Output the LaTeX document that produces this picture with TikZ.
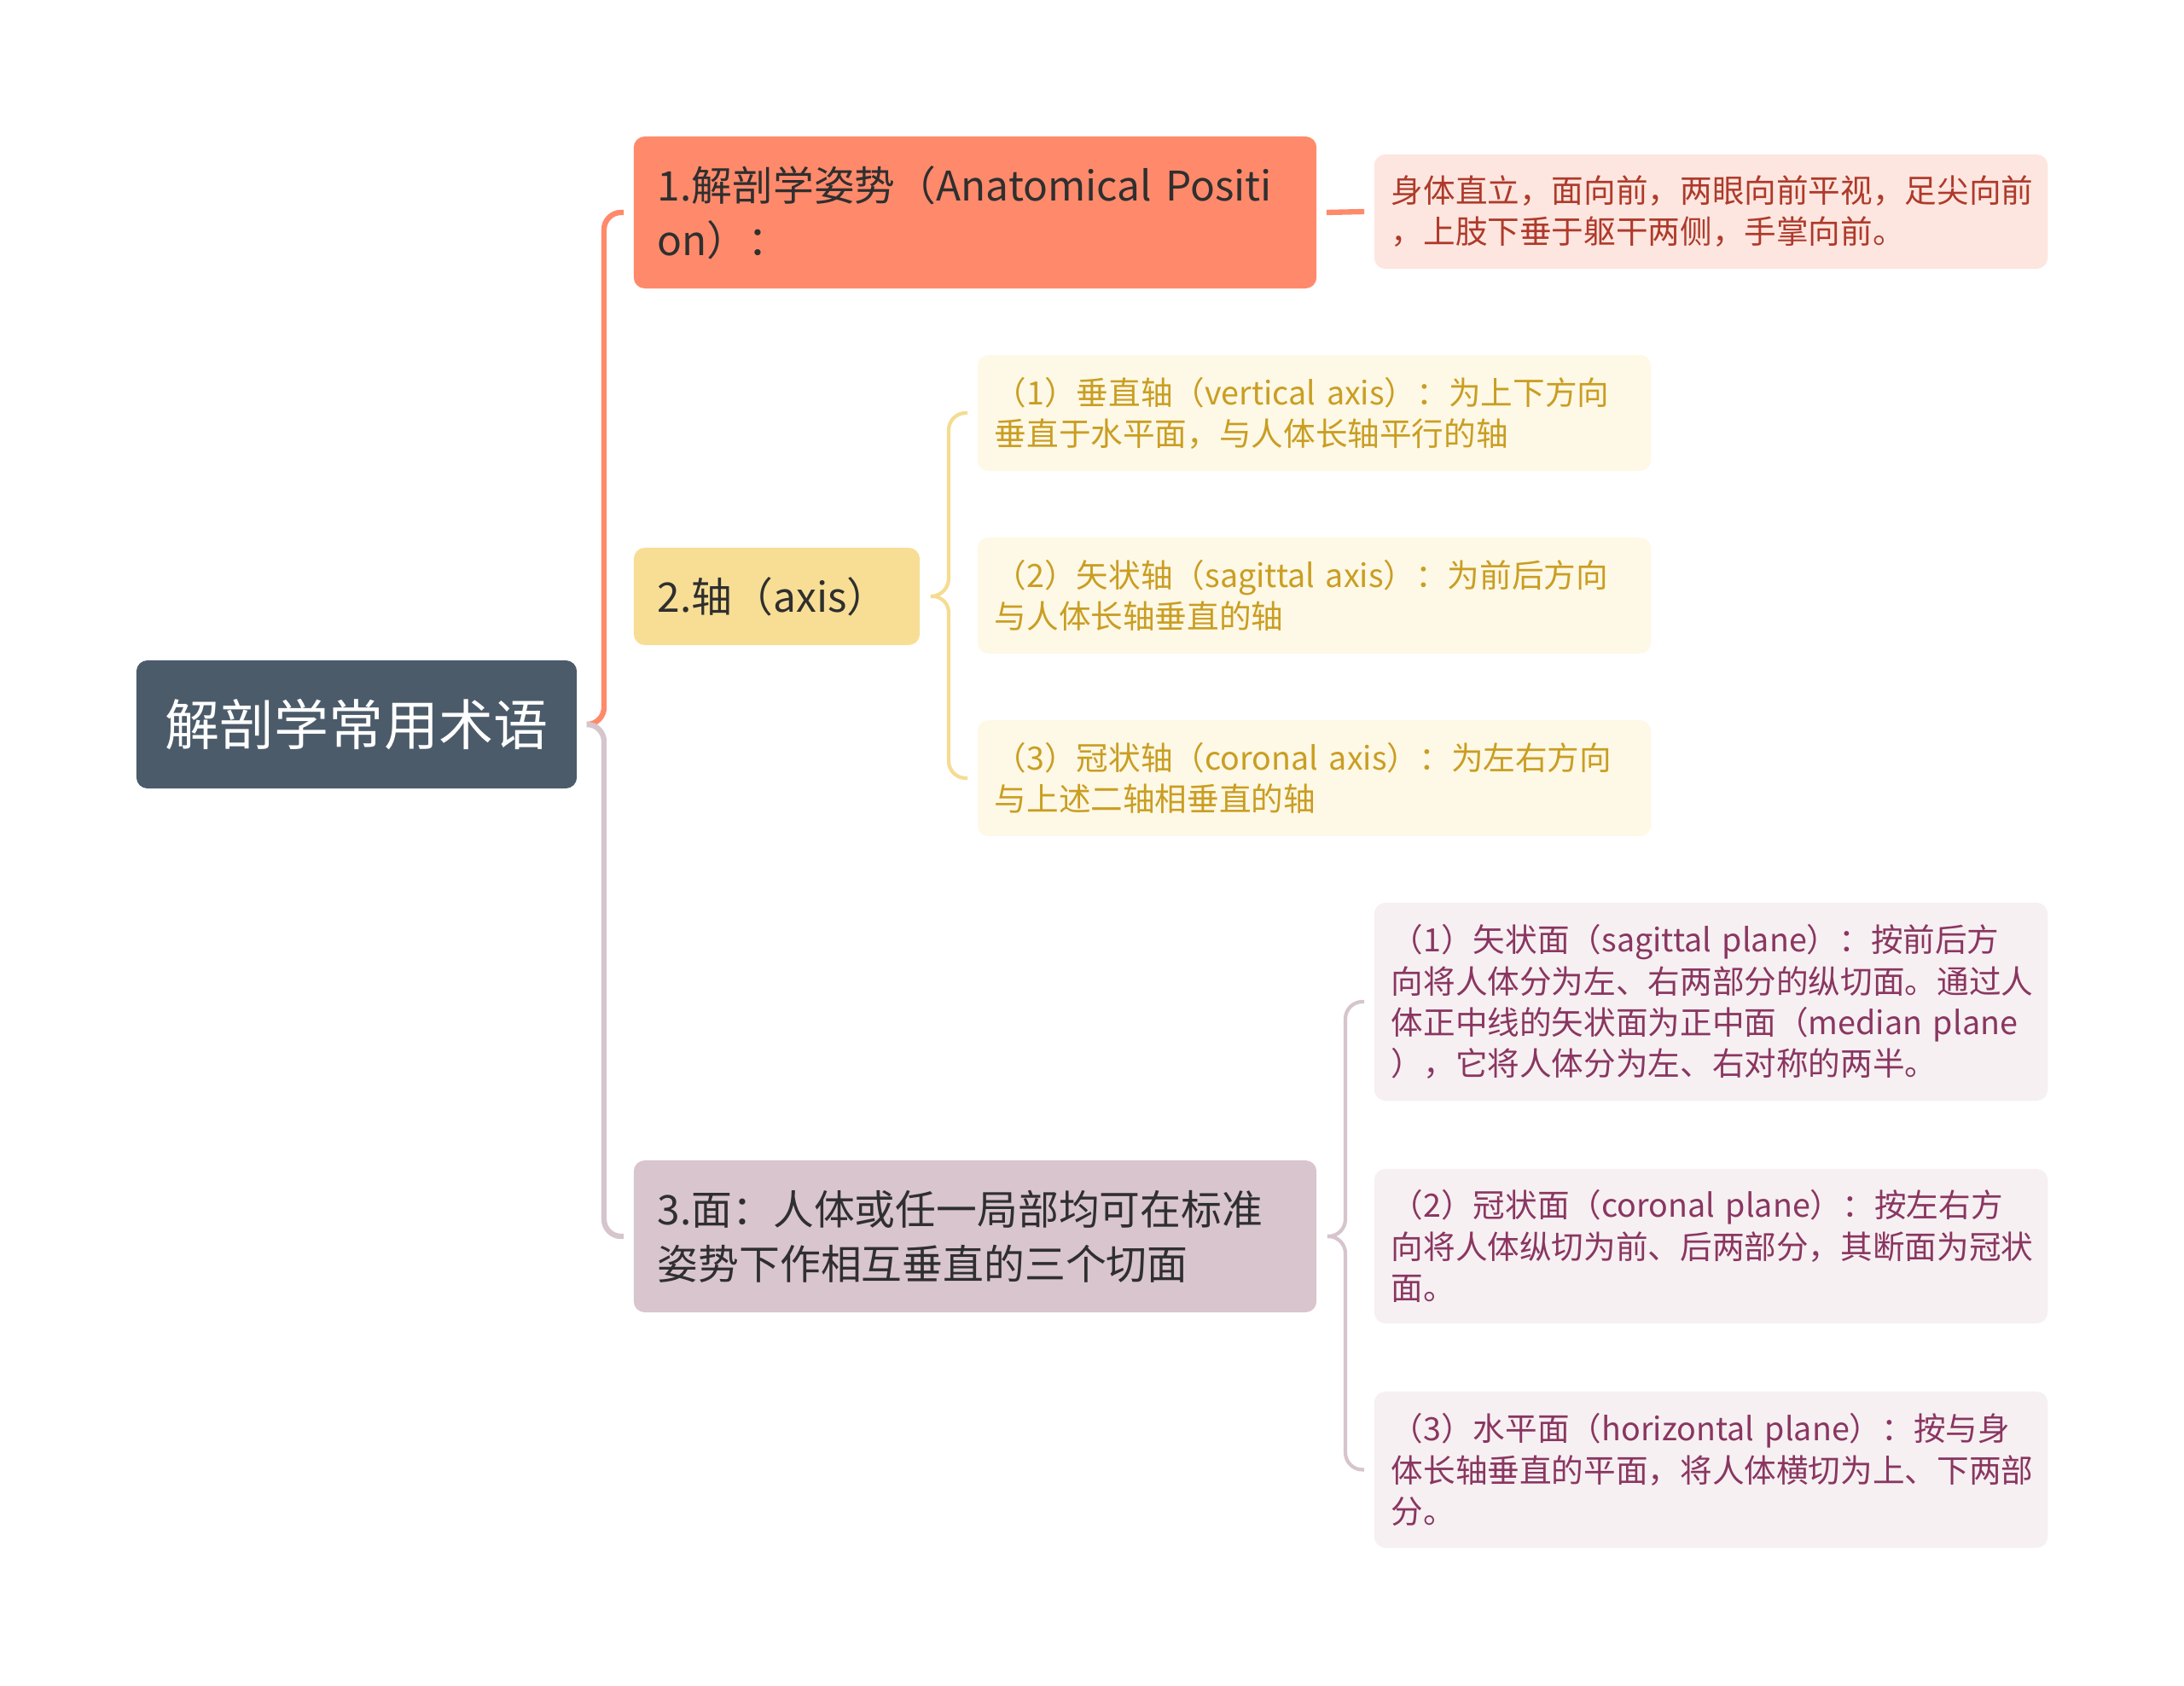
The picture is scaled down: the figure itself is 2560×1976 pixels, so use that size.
\documentclass[tikz,border=0pt]{standalone}
\usepackage{fontspec}
\setmainfont{Noto Sans CJK SC}
\usetikzlibrary{positioning}
\definecolor{Slate}{HTML}{4B5B6A}
\definecolor{Ink}{HTML}{2F2F2F}
\definecolor{Coral}{HTML}{FE8A6B}
\definecolor{CoralPale}{HTML}{FDE6DF}
\definecolor{CoralText}{HTML}{AE3A2B}
\definecolor{Sand}{HTML}{F7DE94}
\definecolor{SandLine}{HTML}{F5DC92}
\definecolor{SandPale}{HTML}{FEF8E6}
\definecolor{SandText}{HTML}{C99E22}
\definecolor{Mauve}{HTML}{D9C5CE}
\definecolor{MauveLine}{HTML}{D6C5CD}
\definecolor{MauvePale}{HTML}{F6F0F2}
\definecolor{MauveText}{HTML}{8A3661}

\begin{document}
\begin{tikzpicture}[
      x=0.01cm, y=-0.01cm,
      box/.style={
        rounded corners=0.13cm,
        align=left,
        inner ysep=0pt
      },
      rootbox/.style={box, fill=Slate, text=white, align=center,
        minimum width=5.16cm, minimum height=1.5cm,
        font=\fontsize{18.2}{22}\selectfont},
      topic/.style={box, inner xsep=0.28cm, text width=7.44cm,
        minimum height=1.78cm, text=Ink,
        font=\fontsize{13.6}{18.2}\selectfont},
      leaf/.style={box, inner xsep=0.2cm, text width=7.49cm,
        font=\fontsize{10.7}{13.7}\selectfont},
      trunk/.style={line width=1.8pt, rounded corners=0.2cm},
      twig/.style={line width=1.2pt, rounded corners=0.2cm}
    ]
      \useasboundingbox (0,0) rectangle (2560,1976);

      \node[rootbox] (root) at (418,849) {解剖学常用术语};

      % 1. posture
      \node[topic, fill=Coral] (pose) at (1143,249)
        {1.解剖学姿势（Anatomical Positi\\on）：};
      \node[leaf, fill=CoralPale, text=CoralText, minimum height=1.34cm] (posedef) at (2005.5,248)
        {身体直立，面向前，两眼向前平视，足尖向前\\，上肢下垂于躯干两侧，手掌向前。};

      % 2. axes
      \node[topic, fill=Sand, text width=2.79cm, minimum height=1.14cm] (axis) at (910.5,699)
        {2.轴（axis）};
      \node[leaf, fill=SandPale, text=SandText, minimum height=1.36cm] (vaxis) at (1540.5,484)
        {（1）垂直轴（vertical axis）：为上下方向\\垂直于水平面，与人体长轴平行的轴};
      \node[leaf, fill=SandPale, text=SandText, minimum height=1.36cm] (saxis) at (1540.5,698)
        {（2）矢状轴（sagittal axis）：为前后方向\\与人体长轴垂直的轴};
      \node[leaf, fill=SandPale, text=SandText, minimum height=1.36cm] (caxis) at (1540.5,912)
        {（3）冠状轴（coronal axis）：为左右方向\\与上述二轴相垂直的轴};

      % 3. planes
      \node[topic, fill=Mauve] (plane) at (1143,1449)
        {3.面：人体或任一局部均可在标准\\姿势下作相互垂直的三个切面};
      \node[leaf, fill=MauvePale, text=MauveText, minimum height=2.32cm] (splane) at (2005.5,1174)
        {（1）矢状面（sagittal plane）：按前后方\\向将人体分为左、右两部分的纵切面。通过人\\体正中线的矢状面为正中面（median plane\\），它将人体分为左、右对称的两半。};
      \node[leaf, fill=MauvePale, text=MauveText, minimum height=1.81cm] (cplane) at (2005.5,1460.5)
        {（2）冠状面（coronal plane）：按左右方\\向将人体纵切为前、后两部分，其断面为冠状\\面。};
      \node[leaf, fill=MauvePale, text=MauveText, minimum height=1.83cm] (hplane) at (2005.5,1722.5)
        {（3）水平面（horizontal plane）：按与身\\体长轴垂直的平面，将人体横切为上、下两部\\分。};

      % connectors
      \coordinate (spine) at (708,849);
      \coordinate (axisspine) at (1112,698);
      \coordinate (planespine) at (1577,1449);
      \draw[trunk, Coral] ([xshift=0.12cm]root.east) -- (spine) -- (spine |- pose) -- ([xshift=-0.11cm]pose.west);
      \draw[trunk, MauveLine] ([xshift=0.12cm]root.east) -- (spine) -- (spine |- plane) -- ([xshift=-0.11cm]plane.west);
      \draw[trunk, Coral] ([xshift=0.11cm]pose.east) -- ([xshift=-0.11cm]posedef.west);
      \draw[twig, SandLine] ([xshift=0.12cm]axis.east) -- (axisspine) -- (axisspine |- vaxis) -- ([xshift=-0.11cm]vaxis.west);
      \draw[twig, SandLine] ([xshift=0.12cm]axis.east) -- (axisspine) -- (axisspine |- caxis) -- ([xshift=-0.11cm]caxis.west);
      \draw[twig, MauveLine] ([xshift=0.12cm]plane.east) -- (planespine) -- (planespine |- splane) -- ([xshift=-0.11cm]splane.west);
      \draw[twig, MauveLine] ([xshift=0.12cm]plane.east) -- (planespine) -- (planespine |- hplane) -- ([xshift=-0.11cm]hplane.west);
    \end{tikzpicture}
\end{document}
